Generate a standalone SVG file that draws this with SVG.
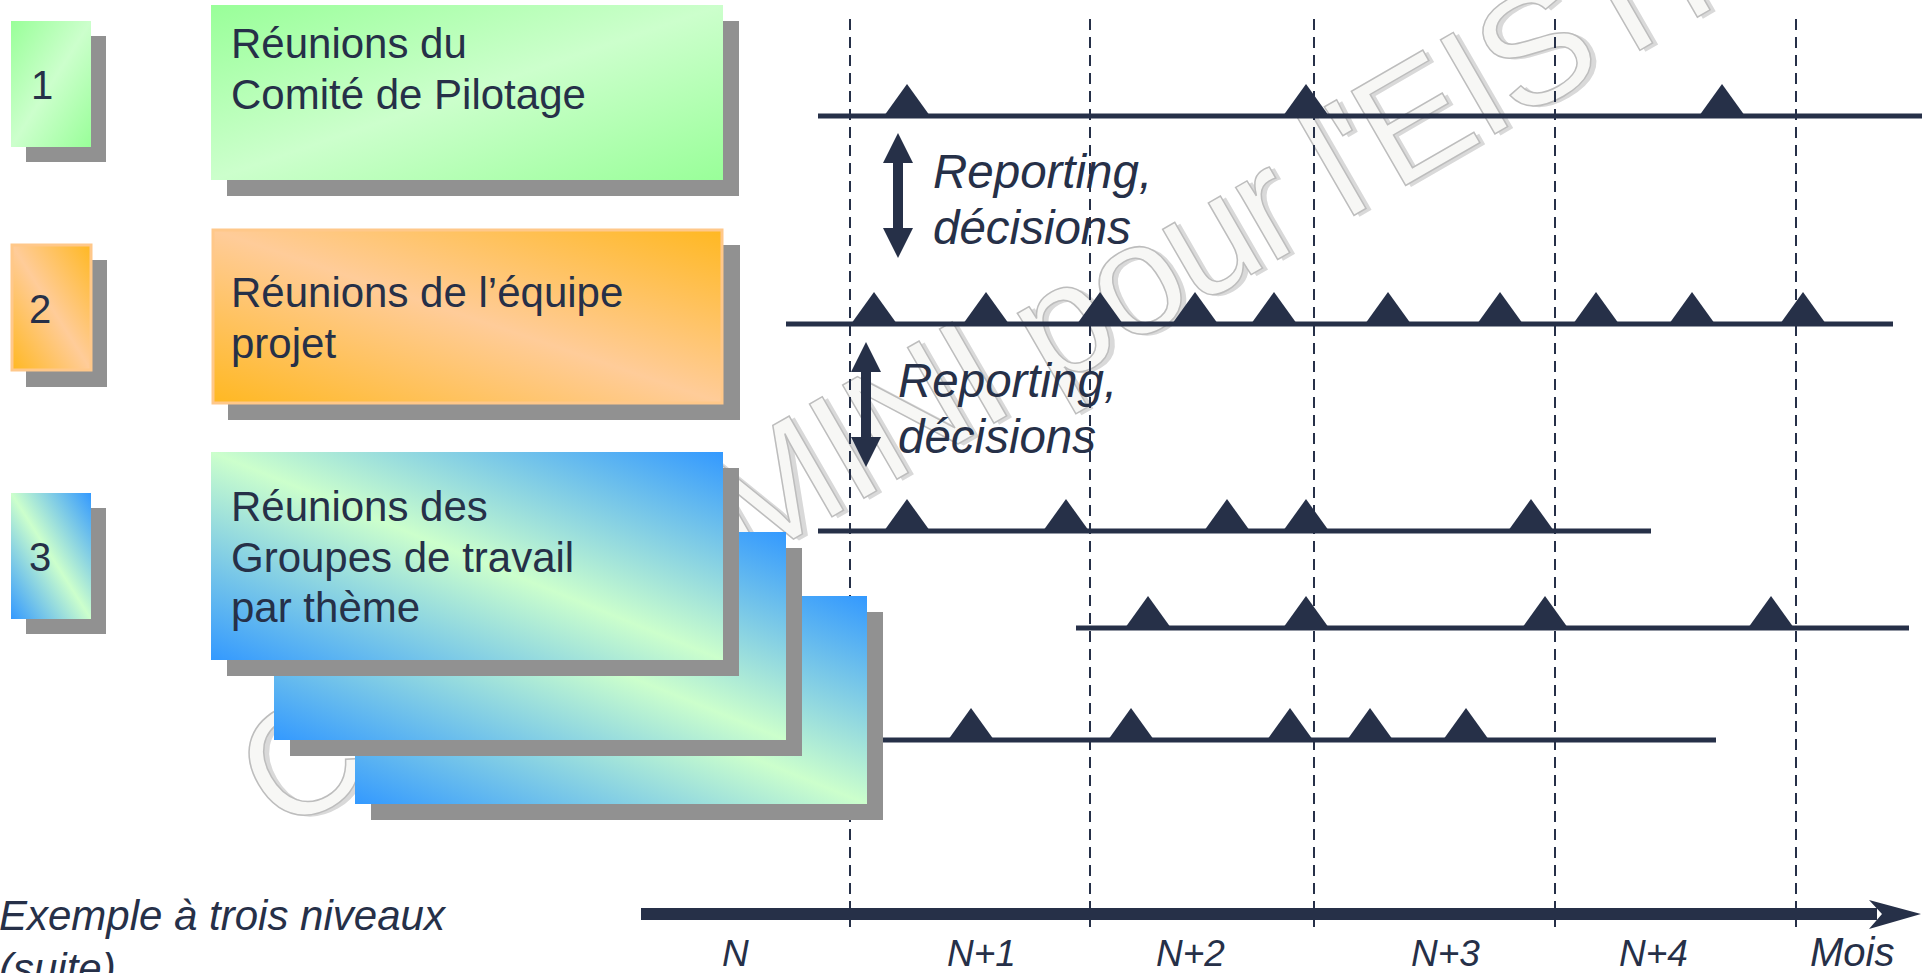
<svg xmlns="http://www.w3.org/2000/svg" width="1929" height="973" viewBox="0 0 1929 973">
<defs>
<linearGradient id="gGreen" x1="0" y1="0" x2="1" y2="1"><stop offset="0" stop-color="#99FF99"/><stop offset="0.5" stop-color="#CCFFCC"/><stop offset="1" stop-color="#99FF99"/></linearGradient>
<linearGradient id="gOrange" x1="1" y1="0" x2="0" y2="1"><stop offset="0" stop-color="#FFB822"/><stop offset="0.5" stop-color="#FFCC99"/><stop offset="1" stop-color="#FFB822"/></linearGradient>
<linearGradient id="gBlue" x1="1" y1="0" x2="0" y2="1"><stop offset="0" stop-color="#3399FF"/><stop offset="0.5" stop-color="#CCFFCC"/><stop offset="1" stop-color="#3399FF"/></linearGradient>
<polygon id="tri" points="-23,0 0,-32 23,0"/>
</defs>
<style>
.sh{fill:#919191}
.ink{fill:#263048}
.bt{font-family:"Liberation Sans",Arial,sans-serif;font-size:42px;fill:#263048}
.num{font-family:"Liberation Sans",Arial,sans-serif;font-size:40px;fill:#263048}
.it{font-family:"Liberation Sans",Arial,sans-serif;font-style:italic;fill:#263048}
.rep{font-size:47.5px}
.ax{font-size:37px}
.tl{stroke:#263048;stroke-width:5;fill:none}
.dash{stroke:#263048;stroke-width:2;stroke-dasharray:11 7;fill:none}
.orb{stroke:#FFC88A;stroke-width:3}
.wm{font-family:"Liberation Sans",Arial,sans-serif;font-size:158px;letter-spacing:-4px}
</style>
<rect width="1929" height="973" fill="#FFFFFF"/>
<g id="watermark" transform="rotate(-30 279 836)">
<text class="wm" x="283" y="840" fill="#D9D9D9">CAPGEMINI pour l'EISTI</text>
<text class="wm" x="279" y="836" fill="#F7F7F5" stroke="#BDBDBD" stroke-width="1.5">CAPGEMINI pour l'EISTI</text>
</g>
<g id="connectors">
<g id="grid">
<line class="dash" x1="850" y1="19" x2="850" y2="927"/>
<line class="dash" x1="1090" y1="19" x2="1090" y2="927"/>
<line class="dash" x1="1314" y1="19" x2="1314" y2="927"/>
<line class="dash" x1="1555" y1="19" x2="1555" y2="927"/>
<line class="dash" x1="1796" y1="19" x2="1796" y2="927"/>
</g>
<g id="row1">
<line class="tl" x1="818" y1="116" x2="1922" y2="116"/>
<g class="ink"><use href="#tri" x="907" y="116"/><use href="#tri" x="1306" y="116"/><use href="#tri" x="1722" y="116"/></g>
</g>
<g id="row2">
<line class="tl" x1="786" y1="324" x2="1893" y2="324"/>
<g class="ink"><use href="#tri" x="874" y="324"/><use href="#tri" x="986" y="324"/><use href="#tri" x="1100" y="324"/><use href="#tri" x="1195" y="324"/><use href="#tri" x="1274" y="324"/><use href="#tri" x="1388" y="324"/><use href="#tri" x="1500" y="324"/><use href="#tri" x="1596" y="324"/><use href="#tri" x="1692" y="324"/><use href="#tri" x="1803" y="324"/></g>
</g>
<g id="row3">
<line class="tl" x1="818" y1="531" x2="1651" y2="531"/>
<g class="ink"><use href="#tri" x="907" y="531"/><use href="#tri" x="1066" y="531"/><use href="#tri" x="1227" y="531"/><use href="#tri" x="1306" y="531"/><use href="#tri" x="1531" y="531"/></g>
</g>
<g id="row4">
<line class="tl" x1="1076" y1="628" x2="1909" y2="628"/>
<g class="ink"><use href="#tri" x="1148" y="628"/><use href="#tri" x="1306" y="628"/><use href="#tri" x="1545" y="628"/><use href="#tri" x="1771" y="628"/></g>
</g>
<g id="row5">
<line class="tl" x1="883" y1="740" x2="1716" y2="740"/>
<g class="ink"><use href="#tri" x="971" y="740"/><use href="#tri" x="1131" y="740"/><use href="#tri" x="1290" y="740"/><use href="#tri" x="1370" y="740"/><use href="#tri" x="1466" y="740"/></g>
</g>
<g id="arrow1" class="ink"><polygon points="898,133 913,163 903,163 903,228 913,228 898,258 883,228 893,228 893,163 883,163"/></g>
<g id="arrow2" class="ink"><polygon points="866,342 881,372 871,372 871,437 881,437 866,467 851,437 861,437 861,372 851,372"/></g>
<g id="axis">
<rect class="ink" x="641" y="908" width="1236" height="12"/>
<polygon class="ink" points="1869,900 1921,914 1869,929 1882,914"/>
</g>
</g>
<g id="label-rep1"><text class="it rep" x="933" y="188">Reporting,</text><text class="it rep" x="933" y="244">décisions</text></g>
<g id="label-rep2"><text class="it rep" x="898" y="397">Reporting,</text><text class="it rep" x="898" y="453">décisions</text></g>
<g id="node-3c"><rect class="sh" x="371" y="612" width="512" height="208"/><rect x="355" y="596" width="512" height="208" fill="url(#gBlue)"/></g>
<g id="node-3b"><rect class="sh" x="290" y="548" width="512" height="208"/><rect x="274" y="532" width="512" height="208" fill="url(#gBlue)"/></g>
<g id="node-3a"><rect class="sh" x="227" y="468" width="512" height="208"/><rect x="211" y="452" width="512" height="208" fill="url(#gBlue)"/>
<text class="bt" x="231" y="521">Réunions des</text><text class="bt" x="231" y="572">Groupes de travail</text><text class="bt" x="231" y="622">par thème</text></g>
<g id="node-1"><rect class="sh" x="227" y="21" width="512" height="175"/><rect x="211" y="5" width="512" height="175" fill="url(#gGreen)"/>
<text class="bt" x="231" y="58">Réunions du</text><text class="bt" x="231" y="109">Comité de Pilotage</text></g>
<g id="node-2"><rect class="sh" x="228" y="245" width="512" height="175"/><rect class="orb" x="213" y="230" width="509" height="173" fill="url(#gOrange)"/>
<text class="bt" x="231" y="307">Réunions de l’équipe</text><text class="bt" x="231" y="358">projet</text></g>
<g id="num-1"><rect class="sh" x="26" y="36" width="80" height="126"/><rect x="11" y="21" width="80" height="126" fill="url(#gGreen)"/><text class="num" x="31" y="99">1</text></g>
<g id="num-2"><rect class="sh" x="26" y="260" width="81" height="127"/><rect class="orb" x="12" y="245" width="79" height="125" fill="url(#gOrange)"/><text class="num" x="29" y="323">2</text></g>
<g id="num-3"><rect class="sh" x="26" y="508" width="80" height="126"/><rect x="11" y="493" width="80" height="126" fill="url(#gBlue)"/><text class="num" x="29" y="571">3</text></g>
<g id="axis-labels">
<text class="it ax" x="722" y="966">N</text>
<text class="it ax" x="947" y="966">N+1</text>
<text class="it ax" x="1156" y="966">N+2</text>
<text class="it ax" x="1411" y="966">N+3</text>
<text class="it ax" x="1619" y="966">N+4</text>
<text class="it" font-size="40" x="1810" y="966">Mois</text>
</g>
<g id="caption">
<text class="it" font-size="42" x="-1" y="930">Exemple à trois niveaux</text>
<text class="it" font-size="42" x="-1" y="983">(suite)</text>
</g>
</svg>
